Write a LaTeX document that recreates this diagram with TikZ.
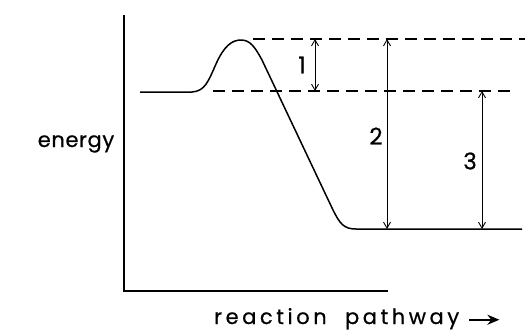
\documentclass[tikz,border=0pt]{standalone}
\usepackage{fontspec}
\setmainfont[FakeBold=0.6]{Poppins}
\newfontfamily\enfont[LetterSpace=3,FakeBold=0.6]{Poppins}
\newfontfamily\rpfont[LetterSpace=17,FakeBold=0.6]{Poppins}
\usetikzlibrary{arrows.meta}
\begin{document}
\begin{tikzpicture}[x=1pt,y=-1pt,
  axis/.style={line width=1.6pt},
  curve/.style={line width=1.5pt,line join=round},
  dashline/.style={line width=1.3pt,dash pattern=on 12pt off 7pt},
  dim/.style={line width=0.9pt,{Straight Barb[length=6pt,width=7pt]}-{Straight Barb[length=6pt,width=7pt]}},
  lbl/.style={font=\fontsize{23}{26}\selectfont,inner sep=0pt}]
\useasboundingbox (0,0) rectangle (531,335);
% axes
\coordinate (top) at (124,15);
\coordinate (origin) at (124,291);
\coordinate (xend) at (388,291);
\draw[axis] (top) -- (origin) -- (xend);
% curve
\draw[curve] (140,92) -- (192,92)
  .. controls (205,91) and (208,82) .. (216,64)
  .. controls (224,46) and (232,40) .. (241,40)
  .. controls (250,40) and (255,47) .. (262,60)
  -- (333,210)
  .. controls (340,224) and (344,229) .. (356,229)
  -- (522,229);
% dashed lines
\draw[dashline] (253,39) -- (525,39);
\draw[dashline] (213,91) -- (516,91);
% dimension arrows
\coordinate (a1t) at (315,39); \coordinate (a1b) at (315,91);
\coordinate (a2t) at (387,39); \coordinate (a2b) at (387,229);
\coordinate (a3t) at (482,91); \coordinate (a3b) at (482,229);
\draw[dim] (a1t) -- (a1b);
\draw[dim] (a2t) -- (a2b);
\draw[dim] (a3t) -- (a3b);
\node[lbl] (l1) at (302,65) {1};
\node[lbl] (l2) at (376,136) {2};
\node[lbl] (l3) at (470,161) {3};
\node[inner sep=0pt,anchor=base,font=\enfont\fontsize{21}{24}\selectfont] (en) at (76,147) {energy};
\node[inner sep=0pt,anchor=base west,font=\rpfont\fontsize{21}{25}\selectfont] (rp) at (214,324) {reaction\ \ pathway};
\coordinate (pa) at ([xshift=10pt,yshift=-1pt]rp.east);
\coordinate (pb) at ([xshift=40pt,yshift=-1pt]rp.east);
\draw[line width=1.7pt,-{Stealth[length=12pt,width=10pt]}] (pa) -- (pb);
\end{tikzpicture}
\end{document}
